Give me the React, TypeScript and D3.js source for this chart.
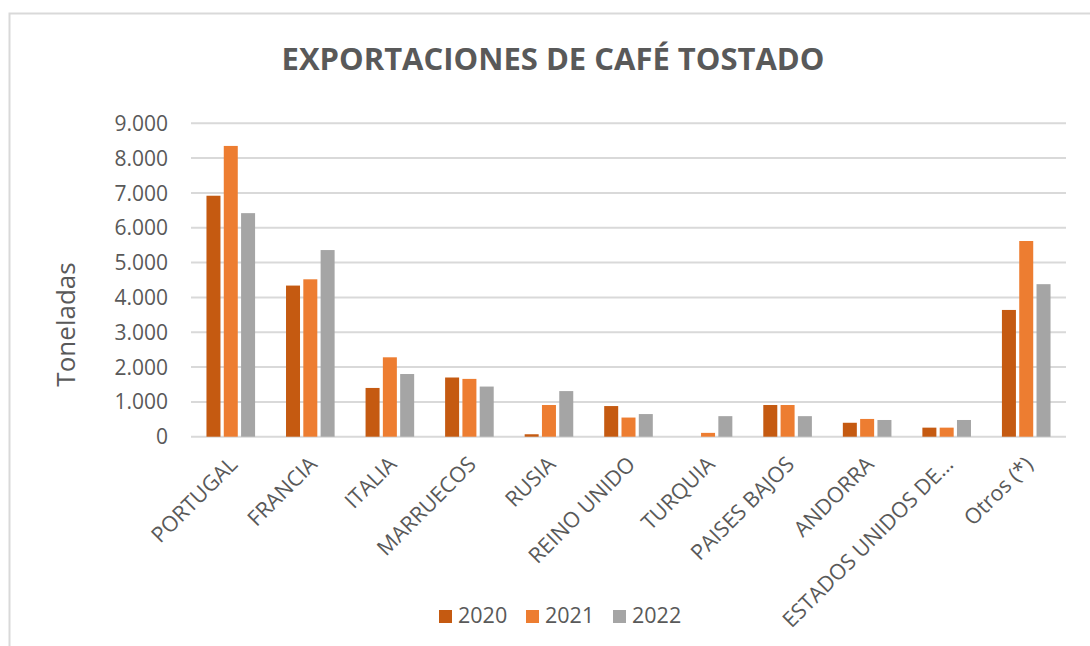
import React from "react";
import * as d3 from "d3";

const categories = ["PORTUGAL", "FRANCIA", "ITALIA", "MARRUECOS", "RUSIA", "REINO UNIDO", "TURQUIA", "PAISES BAJOS", "ANDORRA", "ESTADOS UNIDOS DE…", "Otros (*)"];
const years = ["2020", "2021", "2022"];
const values2020 = [6920, 4340, 1400, 1700, 70, 880, 0, 910, 400, 260, 3640];
const values2021 = [8350, 4520, 2280, 1660, 910, 550, 110, 910, 510, 260, 5620];
const values2022 = [6420, 5360, 1800, 1440, 1310, 650, 590, 590, 480, 480, 4380];
const yTicks = [0, 1000, 2000, 3000, 4000, 5000, 6000, 7000, 8000, 9000];
const colors = ["#C55A11", "#ED7D31", "#A5A5A5"];

const W = 1090, H = 646;
const left = 191, right = 1066, top = 123.3, bottom = 436.7;
const FONT = "'Open Sans', sans-serif";
const TXT = "#595959";

export default function App() {
  const series = [values2020, values2021, values2022];
  const x = d3.scaleBand<string>().domain(categories).range([left, right]).padding(0);
  const y = d3.scaleLinear().domain([0, 9000]).range([bottom, top]);
  const bw = 14, step = 17.3;
  const fmt = (v: number) => d3.format(",")(v).replace(/,/g, ".");

  return (
    <svg width={W} height={H} style={{ position: "absolute", left: 0, top: 0, background: "#fff" }} fontFamily={FONT}>
      <rect x={9.5} y={13.5} width={1200} height={800} fill="#fff" stroke="#D9D9D9" strokeWidth={2} />
      <text x={553} y={70} textAnchor="middle" fontSize={31} fontWeight={700} fill={TXT}>EXPORTACIONES DE CAFÉ TOSTADO</text>
      {yTicks.map((t) => (
        <g key={t}>
          <line x1={left} x2={right} y1={y(t)} y2={y(t)} stroke="#D9D9D9" strokeWidth={2} />
          <text x={168} y={y(t)} dy="0.36em" textAnchor="end" fontSize={21} fill={TXT}>{fmt(t)}</text>
        </g>
      ))}
      <text transform={`translate(75,324.5) rotate(-90)`} textAnchor="middle" fontSize={26} fill={TXT}>Toneladas</text>
      {categories.map((c, i) => {
        const cx = x(c)! + x.bandwidth() / 2;
        return (
          <g key={c}>
            {series.map((s, j) => {
              const bx = cx - step + j * step - bw / 2;
              return <rect key={j} x={bx} y={y(s[i])} width={bw} height={bottom - y(s[i])} fill={colors[j]} />;
            })}
            <text transform={`translate(${cx + 8},${bottom + 29}) rotate(-45)`} textAnchor="end" fontSize={21.5} fill={TXT}>{c}</text>
          </g>
        );
      })}
      {years.map((yr, j) => {
        const lx = 439 + j * 87;
        return (
          <g key={yr}>
            <rect x={lx} y={610} width={13} height={13} fill={colors[j]} />
            <text x={lx + 19} y={623} fontSize={21.5} fill={TXT}>{yr}</text>
          </g>
        );
      })}
    </svg>
  );
}
